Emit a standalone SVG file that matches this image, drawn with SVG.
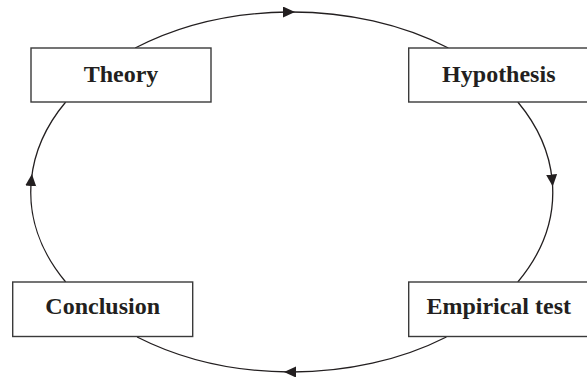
<svg xmlns="http://www.w3.org/2000/svg" width="587" height="377" viewBox="0 0 587 377">
  <defs>
    <style>
      .box { fill: #ffffff; stroke: #3a3a3a; stroke-width: 1.4; }
      .label { font-family: "Liberation Serif", "Times New Roman", serif; font-weight: bold; font-size: 24px; fill: #231f20; text-anchor: middle; }
      .link { fill: none; stroke: #231f20; stroke-width: 1.3; marker-mid: url(#arrow); }
    </style>
    <marker id="arrow" markerUnits="userSpaceOnUse" markerWidth="14" markerHeight="12" refX="6" refY="5.5" orient="auto">
      <path d="M0,0 L12,5.5 L0,11 z" fill="#231f20"/>
    </marker>
  </defs>

  <!-- cycle arcs, all on one ellipse (centre 291.75,192; radii 261 x 180) -->
  <g id="connectors">
    <path class="link" d="M135.15,48 A261,180 0 0 1 289,12 A261,180 0 0 1 448.35,48"/>
    <path class="link" d="M517.8,102 A261,180 0 0 1 552.2,180.5 A261,180 0 0 1 517.8,282"/>
    <path class="link" d="M446.4,337 A261,180 0 0 1 290,372 A261,180 0 0 1 137.1,337"/>
    <path class="link" d="M65.7,282 A261,180 0 0 1 31.35,180 A261,180 0 0 1 65.7,102"/>
  </g>

  <g id="theory">
    <rect class="box" x="31" y="48" width="180" height="54"/>
    <text class="label" x="121" y="82">Theory</text>
  </g>
  <g id="hypothesis">
    <rect class="box" x="408.7" y="48" width="180" height="54"/>
    <text class="label" x="498.8" y="82">Hypothesis</text>
  </g>
  <g id="empirical-test">
    <rect class="box" x="408.7" y="282" width="180" height="54.5"/>
    <text class="label" x="498.7" y="314">Empirical test</text>
  </g>
  <g id="conclusion">
    <rect class="box" x="12.7" y="282" width="180" height="54.5"/>
    <text class="label" x="102.7" y="314">Conclusion</text>
  </g>
</svg>
